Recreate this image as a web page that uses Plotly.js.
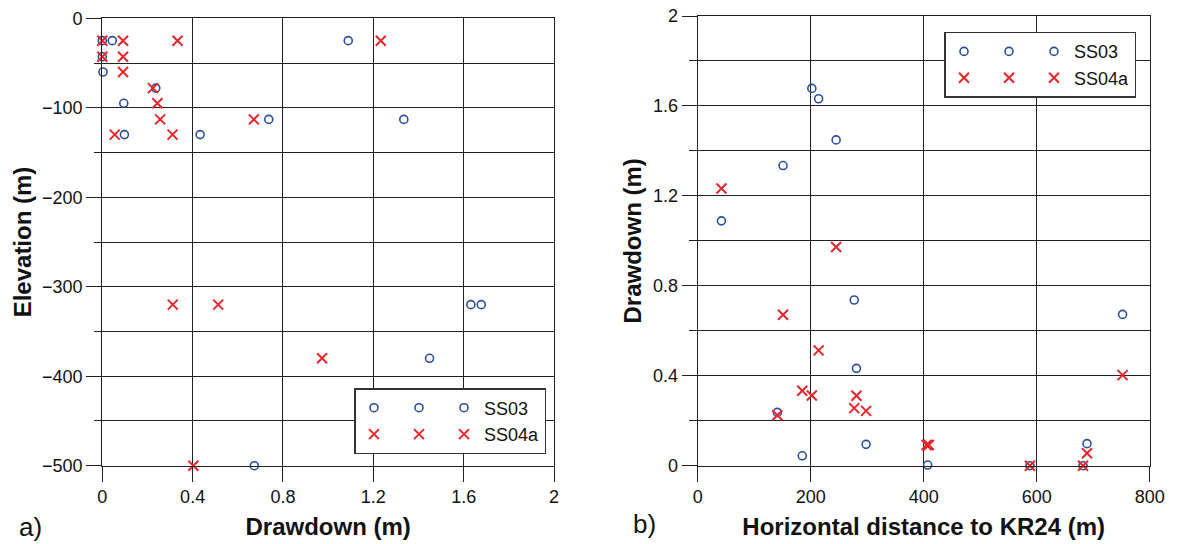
<!DOCTYPE html>
<html>
<head>
<meta charset="utf-8">
<script src="https://cdn.plot.ly/plotly-3.0.1.min.js"></script>
<style>html,body{margin:0;padding:0;background:#fff;}</style>
</head>
<body>
<div id="chart" style="width:1178px;height:544px;"></div>
<script>
// Monitoring sections: elevation (m) and horizontal distance to KR24 (m)
const elevation = [-25, -25, -25, -25, -43, -43, -60, -78, -95, -113, -113, -130, -130, -320, -320, -380, -500];
const distance  = [42, 185, 588, 405, 682, 409, 407, 141, 298, 151, 277, 281, 689, 202, 214, 245, 752];
// Drawdown (m) in each section during the two pumping tests (null = not observed)
const ss03  = [1.089, 0.044, 0, null, 0, null, 0.003, 0.237, 0.095, 1.335, 0.737, 0.433, 0.098, 1.678, 1.632, 1.449, 0.673];
const ss04a = [1.233, 0.333, 0, 0.092, 0, 0.092, 0.092, 0.224, 0.244, 0.671, 0.256, 0.311, 0.055, 0.312, 0.513, 0.973, 0.403];
const seriesNames = ['SS03', 'SS04a'];
const panelLabels = ['a)', 'b)'];

const W = 1178, H = 544;
const FONT = 'Liberation Sans, Arial, Helvetica, sans-serif';
const INK = '#222';
const circle = {symbol: 'circle-open', size: 8, color: '#2b4ea2', line: {width: 1.6, color: '#2b4ea2'}};
const cross  = {symbol: 'x-thin-open', size: 10, color: '#e8262b', line: {width: 2, color: '#e8262b'}};

function px(v) { return v / W; }
function py(v) { return (H - v) / H; }

function series(x, y, name, marker, xa, ya, legend, group) {
  return {type: 'scatter', mode: 'markers', x: x, y: y, name: name, marker: marker,
          xaxis: xa, yaxis: ya, legend: legend, legendgroup: group, showlegend: true,
          cliponaxis: false, hoverinfo: 'x+y+name'};
}
// extra legend keys: the symbols repeated in two more columns, without text
function keys(xa, ya, legend) {
  const out = [];
  ['k1', 'k2'].forEach(g => {
    out.push(series([null], [null], '', circle, xa, ya, legend, g));
    out.push(series([null], [null], '', cross, xa, ya, legend, g));
  });
  return out;
}

const traces = [
  ...keys('x', 'y', 'legend'),
  series(ss03, elevation, seriesNames[0], circle, 'x', 'y', 'legend', 'main'),
  series(ss04a, elevation, seriesNames[1], cross, 'x', 'y', 'legend', 'main'),
  ...keys('x2', 'y2', 'legend2'),
  series(distance, ss03, seriesNames[0], circle, 'x2', 'y2', 'legend2', 'main'),
  series(distance, ss04a, seriesNames[1], cross, 'x2', 'y2', 'legend2', 'main')
];

function axis(extra) {
  return Object.assign({
    ticks: 'outside', ticklen: 15, tickwidth: 1.2, tickcolor: INK,
    showgrid: true, gridcolor: INK, gridwidth: 1.2,
    showline: true, mirror: true, linecolor: INK, linewidth: 1.2,
    zeroline: false, fixedrange: true,
    tickfont: {family: FONT, size: 18, color: '#111'}
  }, extra);
}
function axTitle(text, standoff) {
  return {text: text, standoff: standoff, font: {family: FONT, size: 24, color: '#111', weight: 'bold'}};
}
function legendBox(extra) {
  return Object.assign({
    orientation: 'h', traceorder: 'grouped', tracegroupgap: 0, itemwidth: 30,
    bgcolor: '#fff', bordercolor: '#333', borderwidth: 1.5,
    font: {family: FONT, size: 18, color: '#111'}
  }, extra);
}

const layout = {
  width: W, height: H, autosize: false,
  margin: {l: 0, r: 0, t: 0, b: 0},
  paper_bgcolor: '#fff', plot_bgcolor: '#fff',
  font: {family: FONT, color: '#111'},
  xaxis: axis({domain: [px(102.3), px(554)], anchor: 'y', range: [0, 2], tick0: 0, dtick: 0.4,
               title: axTitle('Drawdown (m)', 11)}),
  yaxis: axis({domain: [py(465.7), py(18.3)], anchor: 'x', range: [-500, 0], tick0: 0, dtick: 100,
               minor: {dtick: 50, ticks: 'outside', ticklen: 7, tickcolor: INK, showgrid: true, gridcolor: INK, gridwidth: 1.2},
               title: axTitle('Elevation (m)', 3)}),
  xaxis2: axis({domain: [px(697.7), px(1149.7)], anchor: 'y2', range: [0, 800], tick0: 0, dtick: 200,
                title: axTitle('Horizontal distance to KR24 (m)', 11)}),
  yaxis2: axis({domain: [py(465.7), py(16)], anchor: 'x2', range: [0, 2], tick0: 0, dtick: 0.4,
                minor: {dtick: 0.2, ticks: 'outside', ticklen: 8, tickcolor: INK, showgrid: true, gridcolor: INK, gridwidth: 1.2},
                title: axTitle('Drawdown (m)', 4)}),
  legend: legendBox({x: px(546), xanchor: 'right', y: py(454), yanchor: 'bottom'}),
  legend2: legendBox({x: px(1136), xanchor: 'right', y: py(31.7), yanchor: 'top'}),
  showlegend: true,
  annotations: [
    {text: panelLabels[0], xref: 'paper', yref: 'paper', x: px(17), y: py(527), xanchor: 'left', yanchor: 'middle',
     showarrow: false, font: {family: FONT, size: 26, color: '#111'}},
    {text: panelLabels[1], xref: 'paper', yref: 'paper', x: px(631), y: py(524), xanchor: 'left', yanchor: 'middle',
     showarrow: false, font: {family: FONT, size: 26, color: '#111'}}
  ]
};

Plotly.newPlot('chart', traces, layout, {displayModeBar: false, responsive: false});
</script>
</body>
</html>
